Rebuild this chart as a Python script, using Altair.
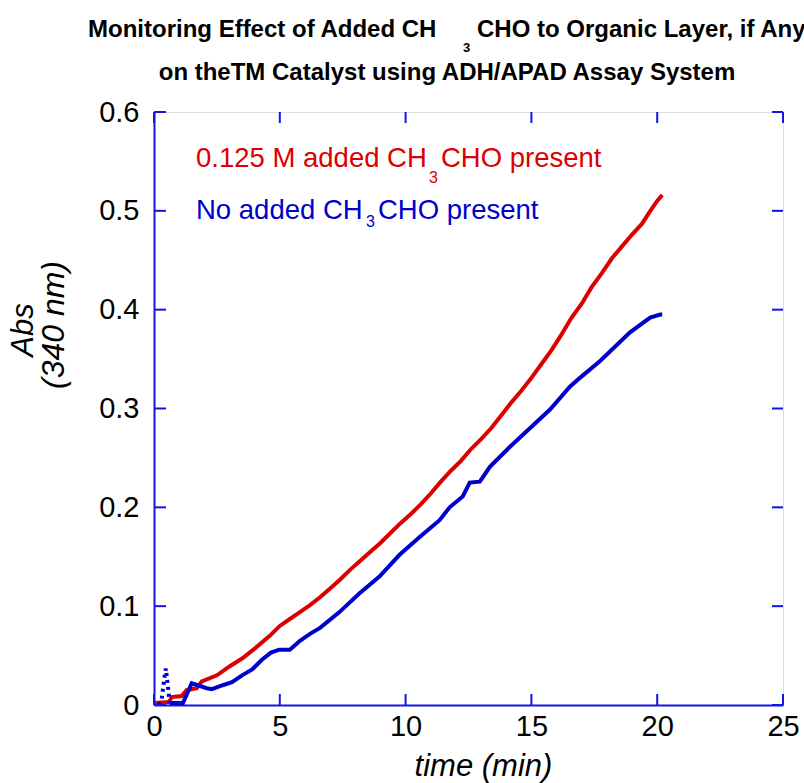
import altair as alt
import pandas as pd

# ---- data ----
red_t = [0.0, 0.6, 0.7, 1.1, 1.3, 1.7, 1.9, 2.5, 3.0, 3.5, 4.0, 4.6, 5.0, 5.4, 5.8, 6.2, 6.6, 7.0,
         7.4, 7.8, 8.2, 8.6, 9.0, 9.4, 9.8, 10.2, 10.6, 11.0, 11.4, 11.8, 12.2, 12.6, 13.0, 13.4,
         13.8, 14.2, 14.6, 15.0, 15.4, 15.8, 16.2, 16.6, 17.0, 17.4, 17.8, 18.2, 18.6, 19.0, 19.4,
         19.7, 20.0, 20.2]
red_abs = [0.002, 0.003, 0.008, 0.009, 0.015, 0.017, 0.024, 0.030, 0.039, 0.047, 0.057, 0.070,
           0.080, 0.087, 0.094, 0.101, 0.109, 0.118, 0.127, 0.137, 0.146, 0.155, 0.164, 0.174,
           0.184, 0.193, 0.203, 0.214, 0.226, 0.237, 0.247, 0.259, 0.269, 0.280, 0.293, 0.306,
           0.318, 0.331, 0.345, 0.359, 0.375, 0.392, 0.406, 0.423, 0.437, 0.452, 0.464, 0.476,
           0.487, 0.499, 0.510, 0.516]

blue_t = [0.62, 1.15, 1.5, 2.1, 2.3, 2.73, 3.1, 3.5, 3.9, 4.3, 4.65, 4.98, 5.4, 5.8, 6.2, 6.6,
          7.37, 8.17, 8.96, 9.76, 10.56, 11.35, 11.75, 12.27, 12.55, 12.95, 13.35, 14.14, 14.94,
          15.74, 16.53, 16.93, 17.73, 18.92, 19.72, 20.12, 20.2]
blue_abs = [0.002, 0.002, 0.022, 0.017, 0.016, 0.020, 0.023, 0.030, 0.036, 0.046, 0.053, 0.056,
            0.056, 0.065, 0.072, 0.078, 0.094, 0.113, 0.130, 0.152, 0.170, 0.187, 0.200, 0.211,
            0.225, 0.226, 0.241, 0.261, 0.280, 0.299, 0.322, 0.331, 0.348, 0.377, 0.392, 0.395,
            0.395]

spike_t = [0.2, 0.3, 0.4, 0.47, 0.55, 0.62]
spike_abs = [0.0, 0.005, 0.025, 0.037, 0.020, 0.002]

x_ticks = [0, 5, 10, 15, 20, 25]
y_ticks = [0, 0.1, 0.2, 0.3, 0.4, 0.5, 0.6]

RED = "#dd0000"
BLUE = "#0000cc"
AXIS = "#1414e6"
FONT = "Liberation Sans"
W, H = 629, 593

df = pd.DataFrame(
    {"t": red_t + blue_t, "abs": red_abs + blue_abs,
     "series": ["red"] * len(red_t) + ["blue"] * len(blue_t)}
)
spike = pd.DataFrame({"t": spike_t, "abs": spike_abs})

xs = alt.Scale(domain=[0, 25], nice=False, zero=False)
ys = alt.Scale(domain=[0, 0.6], nice=False, zero=False)

x_axis = alt.Axis(values=x_ticks, format="d", ticks=False, tickSize=0, grid=False,
                  domainColor=AXIS, domainWidth=2, labelColor="black", labelFont=FONT,
                  labelFontSize=29, labelPadding=7, labelFlush=False,
                  title="time (min)", titleFont=FONT, titleFontSize=31,
                  titleFontStyle="italic", titleFontWeight="normal", titleColor="black",
                  titleX=329, titleY=70, titleBaseline="alphabetic", titleAlign="center")
y_axis = alt.Axis(values=y_ticks, ticks=False, tickSize=0, grid=False,
                  domainColor=AXIS, domainWidth=2, labelColor="black", labelFont=FONT,
                  labelFontSize=29, labelPadding=15, labelFlush=False,
                  labelExpr="datum.value == 0 ? '0' : format(datum.value, '.1f')",
                  title=None)

lines = alt.Chart(df).mark_line(strokeWidth=4).encode(
    x=alt.X("t:Q", scale=xs, axis=x_axis),
    y=alt.Y("abs:Q", scale=ys, axis=y_axis),
    color=alt.Color("series:N", scale=alt.Scale(domain=["red", "blue"], range=[RED, BLUE]),
                    legend=None),
    order="t:Q",
)

spike_line = alt.Chart(spike).mark_line(strokeWidth=4, strokeDash=[3, 4], color=BLUE).encode(
    x="t:Q", y="abs:Q"
)

xt = pd.DataFrame({"t": x_ticks})
yt = pd.DataFrame({"abs": y_ticks})
tick_layers = [
    alt.Chart(xt).mark_rule(color=AXIS, strokeWidth=2).encode(
        x="t:Q", y=alt.value(H), y2=alt.value(H - 11)),
    alt.Chart(xt).mark_rule(color=AXIS, strokeWidth=2).encode(
        x="t:Q", y=alt.value(0), y2=alt.value(11)),
    alt.Chart(yt).mark_rule(color=AXIS, strokeWidth=2).encode(
        y="abs:Q", x=alt.value(0), x2=alt.value(12)),
    alt.Chart(yt).mark_rule(color=AXIS, strokeWidth=2).encode(
        y="abs:Q", x=alt.value(W), x2=alt.value(W - 11)),
]

one = pd.DataFrame({"k": [0]})


def label(txt, x, y, size, color="black", align="left", weight="normal", style="normal",
          angle=None):
    kw = dict(text=txt, fontSize=size, color=color, align=align, baseline="alphabetic",
              font=FONT, fontWeight=weight, fontStyle=style)
    if angle is not None:
        kw["angle"] = angle
    return alt.Chart(one).mark_text(**kw).encode(x=alt.value(x), y=alt.value(y))


texts = [
    # title
    label("Monitoring Effect of Added CH", -66, -75, 24, weight="bold"),
    label("3", 309, -60, 13, weight="bold"),
    label("CHO to Organic Layer, if Any", 323, -75, 24, weight="bold"),
    label("on theTM Catalyst using ADH/APAD Assay System", 293, -32, 24, align="center",
          weight="bold"),
    # in-plot legend
    label("0.125 M added CH", 42, 55, 27.5, color=RED),
    label("3", 275, 71, 16, color=RED),
    label("CHO present", 287, 55, 27.5, color=RED),
    label("No added CH", 42, 107, 27.5, color=BLUE),
    label("3", 212, 115, 16, color=BLUE),
    label("CHO present", 224, 107, 27.5, color=BLUE),
    # y-axis title
    label("Abs", -121, 218, 31, align="center", style="italic", angle=270),
    label("(340 nm)", -90, 213, 32, align="center", style="italic", angle=270),
]

chart = alt.layer(lines, spike_line, *tick_layers, *texts).properties(
    width=W, height=H,
    autosize=alt.AutoSizeParams(type="none"),
    padding={"left": 154, "top": 112, "right": 21, "bottom": 78},
).configure_view(stroke=AXIS, strokeWidth=2).configure(background="white")

chart.save("out.html", embed_options={"renderer": "svg", "actions": False})
